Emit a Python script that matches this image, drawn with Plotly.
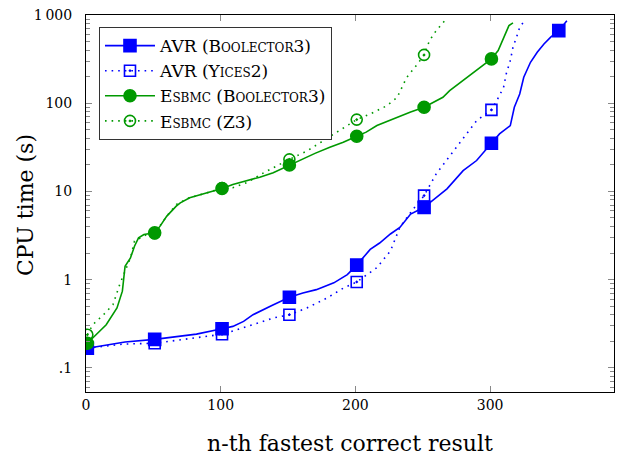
import plotly.graph_objects as go

# ---- data ----
MARK_X = [1, 51, 101, 151, 201, 251, 301, 351]

avr_b3_x = [1, 20, 29, 51, 67, 82, 101, 109, 117, 124, 138, 151, 161, 171, 184, 194, 201, 211, 218, 226, 233,
            241, 251, 268, 280, 290, 301, 307, 315, 318, 322, 325, 330, 335, 340, 345, 351, 357]
avr_b3_y = [0.167, 0.186, 0.196, 0.21, 0.227, 0.241, 0.277, 0.295, 0.336, 0.40, 0.51, 0.63, 0.705, 0.77, 0.92,
            1.14, 1.46, 2.2, 2.6, 3.29, 3.91, 5.54, 6.6, 10.7, 17.2, 22.4, 35.1, 44.9, 55.7, 90, 127, 197, 291,
            378, 470, 560, 665, 863]

avr_y2_x = [1, 28, 51, 70, 90, 101, 112, 127, 139, 151, 164, 179, 191, 201, 211, 216, 226, 233, 242, 251, 260,
            273, 290, 301, 305, 310, 312, 315, 317, 320, 322, 326]
avr_y2_y = [0.167, 0.186, 0.19, 0.208, 0.227, 0.24, 0.27, 0.32, 0.367, 0.40, 0.477, 0.62, 0.80, 0.94, 1.19, 1.37,
            2.11, 3.91, 6.05, 8.96, 15.8, 29, 63.5, 84, 107, 151, 215, 304, 430, 583, 724, 880]

esbmc_b3_x = [1, 5, 15, 23, 27, 29, 33, 36, 39, 43, 51, 55, 60, 67, 70, 77, 87, 92, 101, 109, 119, 129, 139,
              147, 151, 160, 170, 181, 191, 201, 208, 216, 231, 241, 251, 265, 270, 280, 290, 301, 306, 310,
              314, 317]
esbmc_b3_y = [0.19, 0.217, 0.308, 0.477, 0.74, 1.42, 1.76, 2.39, 2.97, 3.25, 3.39, 4.04, 5.25, 6.81, 7.43, 8.47,
              9.4, 9.9, 10.8, 12.0, 13.1, 14.5, 16.3, 18.6, 19.9, 23, 27, 31.6, 36, 42.2, 47, 55.9, 69.5, 79.4,
              89.9, 116.7, 138.8, 180, 234, 318, 395, 558, 758, 813]

esbmc_z3_x = [1, 5, 13, 20, 25, 33, 36, 45, 51, 60, 67, 77, 90, 101, 109, 119, 132, 144, 151, 164, 181, 191,
              201, 211, 223, 231, 238, 246, 251, 255, 260, 266]
esbmc_z3_y = [0.237, 0.308, 0.40, 0.52, 0.88, 1.76, 2.73, 3.25, 3.35, 5.25, 7.1, 8.5, 9.66, 10.9, 11, 12.5,
              16.3, 20.6, 23.1, 28.7, 42, 52, 65.2, 75.4, 93, 116, 195, 277, 353, 512, 665, 851]

y_tick_vals = [0.1, 1, 10, 100, 1000]
y_tick_text = [".1", "1", "10", "100", "1\u2009000"]
x_tick_vals = [0, 100, 200, 300]

BLUE = "#0000ff"
GREEN = "#009900"
FONT = "DejaVu Serif"
DOT = "1.6px,5px"

series = [
    ("AVR (Boolector3)", avr_b3_x, avr_b3_y, BLUE, "solid", "square", 12),
    ("AVR (Yices2)", avr_y2_x, avr_y2_y, BLUE, DOT, "square-open-dot", 11),
    ("Esbmc (Boolector3)", esbmc_b3_x, esbmc_b3_y, GREEN, "solid", "circle", 12),
    ("Esbmc (Z3)", esbmc_z3_x, esbmc_z3_y, GREEN, DOT, "circle-open-dot", 11),
]

fig = go.Figure()
for name, xs, ys, col, dash, sym, ms in series:
    mx = [x for x in xs if x in MARK_X]
    my = [y for x, y in zip(xs, ys) if x in MARK_X]
    fig.add_trace(go.Scatter(x=xs, y=ys, mode="lines", line=dict(color=col, width=1.6, dash=dash),
                             showlegend=False, hoverinfo="skip"))
    fig.add_trace(go.Scatter(x=mx, y=my, mode="markers", showlegend=False,
                             marker=dict(symbol=sym, size=ms, color=col, line=dict(color=col, width=1.6))))
    fig.add_trace(go.Scatter(x=[None], y=[None], mode="lines+markers", name=name,
                             line=dict(color=col, width=1.6, dash=dash),
                             marker=dict(symbol=sym, size=ms, color=col, line=dict(color=col, width=1.6))))

minor_vals = []
for base in [0.01, 0.1, 1, 10, 100]:
    for k in range(2, 10):
        v = base * k
        if 0.05 <= v <= 1000:
            minor_vals.append(v)

fig.update_layout(
    width=617, height=457,
    margin=dict(l=86, r=3, t=15, b=65),
    paper_bgcolor="white", plot_bgcolor="white",
    font=dict(family=FONT, size=14, color="black"),
    legend=dict(x=0.0246, y=0.968, xanchor="left", yanchor="top",
                bgcolor="white", bordercolor="#333", borderwidth=1,
                font=dict(family=FONT, size=17, variant="small-caps"),
                itemwidth=50),
    xaxis=dict(range=[0, 392], tickmode="array", tickvals=x_tick_vals,
               ticks="inside", ticklen=6, tickcolor="#888", mirror="allticks",
               showline=True, linecolor="black", linewidth=1, showgrid=False, zeroline=False,
               tickfont=dict(size=14),
               title=dict(text="n-th fastest correct result", font=dict(size=22), standoff=23)),
    yaxis=dict(type="log", range=[-1.274, 3], tickmode="array", tickvals=y_tick_vals, ticktext=y_tick_text,
               ticks="inside", ticklen=6, tickcolor="#888", mirror="allticks",
               showline=True, linecolor="black", linewidth=1, showgrid=False, zeroline=False,
               tickfont=dict(size=14), ticklabelstandoff=10,
               minor=dict(tickmode="array", tickvals=minor_vals, ticks="inside", ticklen=4,
                          tickcolor="#888", showgrid=False)),
    annotations=[dict(text="CPU time (s)", xref="paper", yref="paper", x=-0.1155, y=0.496,
                      xanchor="center", yanchor="middle", textangle=-90, showarrow=False,
                      font=dict(family=FONT, size=22, color="black"))],
)

fig.write_html("out.html")
